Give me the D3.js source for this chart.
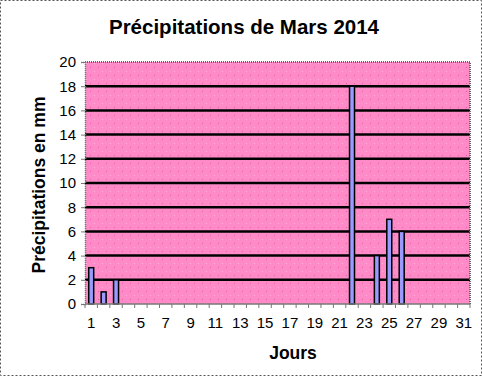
<!DOCTYPE html>
<html>
<head>
<meta charset="utf-8">
<script src="https://cdn.jsdelivr.net/npm/d3@7"></script>
<style>
  body { margin: 0; background: #fff; }
  text { font-family: Arial, "Liberation Sans", sans-serif; }
</style>
</head>
<body>
<div id="chart"></div>
<script>
// days of March and rain in mm (0 where nothing was measured)
var days = d3.range(1, 32);
var rain = [3,1,2,0,0,0,0,0,0,0,0,0,0,0,0,0,0,0,0,0,0,18,0,4,7,6,0,0,0,0,0];
var yTicks = [0,2,4,6,8,10,12,14,16,18,20];
var xLabels = [1,3,5,7,9,11,13,15,17,19,21,23,25,27,29,31];

const W = 482, H = 376;
const plot = {left: 85, right: 470, top: 62, bottom: 304};

var svg = d3.select("#chart").append("svg")
  .attr("width", W)
  .attr("height", H);

// pink dotted background like the old excel fill
var defs = svg.append("defs");
var pat = defs.append("pattern")
  .attr("id", "dots")
  .attr("width", 8).attr("height", 8)
  .attr("patternUnits", "userSpaceOnUse");
pat.append("rect").attr("width", 8).attr("height", 8).attr("fill", "#ff8ac8");
pat.append("rect").attr("x", 2).attr("y", 3).attr("width", 1).attr("height", 1).attr("fill", "#e0609f");
pat.append("rect").attr("x", 6).attr("y", 7).attr("width", 1).attr("height", 1).attr("fill", "#ffb0dc");

// outer border
svg.append("rect")
  .attr("x", 0.5).attr("y", 0.5)
  .attr("width", W - 1).attr("height", H - 1)
  .style("fill", "white")
  .style("stroke", "#555")
  .style("stroke-dasharray", "2,2")
  .style("stroke-width", 1);

var x = d3.scaleBand()
  .domain(days)
  .range([plot.left, plot.right])
  .paddingInner(0.6)
  .paddingOuter(0.3);

var y = d3.scaleLinear()
  .domain([0, 20])
  .range([plot.bottom, plot.top]);

svg.append("rect")
  .attr("x", plot.left).attr("y", plot.top)
  .attr("width", plot.right - plot.left)
  .attr("height", plot.bottom - plot.top)
  .style("fill", "url(#dots)");

// grid lines
svg.append("g").selectAll("line")
  .data(yTicks.filter(d => d > 0 && d < 20))
  .join("line")
  .attr("x1", plot.left).attr("x2", plot.right)
  .attr("y1", d => y(d)).attr("y2", d => y(d))
  .style("stroke", "black")
  .style("stroke-width", 2.5);

// plot border (top & right grey dotted)
svg.append("path")
  .attr("d", `M${plot.left},${plot.top}H${plot.right}V${plot.bottom}`)
  .style("fill", "none")
  .style("stroke", "#666")
  .style("stroke-dasharray", "1,1")
  .style("stroke-width", 2);

// bars
svg.append("g").selectAll("rect")
  .data(days.filter((d, i) => rain[i] > 0))
  .join("rect")
  .attr("x", d => x(d))
  .attr("y", d => y(rain[d - 1]))
  .attr("width", x.bandwidth())
  .attr("height", d => y(0) - y(rain[d - 1]))
  .style("fill", "#9a9aff")
  .style("stroke", "black")
  .style("stroke-width", 1.5);

// y axis
var yAxis = svg.append("g")
  .attr("transform", `translate(${plot.left},0)`)
  .call(d3.axisLeft(y).tickValues(yTicks).tickSize(4).tickPadding(5));
yAxis.select(".domain").style("stroke", "#777").style("stroke-dasharray", "1,1").style("stroke-width", 1.5);
yAxis.selectAll(".tick line").style("stroke", "#777");
yAxis.selectAll("text").style("font-size", "15px").style("fill", "black");

// x axis: ticks between days, labels every two days
var step = x.step();
var xAxis = svg.append("g")
  .attr("transform", `translate(0,${plot.bottom})`);
xAxis.append("line")
  .attr("x1", plot.left).attr("x2", plot.right)
  .style("stroke", "#777").style("stroke-width", 1.5);
xAxis.selectAll(".tk")
  .data(d3.range(0, days.length + 1))
  .join("line")
  .attr("class", "tk")
  .attr("x1", i => plot.left + i * step).attr("x2", i => plot.left + i * step)
  .attr("y1", 0).attr("y2", 4)
  .style("stroke", "#777");
xAxis.selectAll("text")
  .data(xLabels)
  .join("text")
  .attr("x", d => x(d) + x.bandwidth() / 2)
  .attr("y", 24)
  .attr("text-anchor", "middle")
  .style("font-size", "15px")
  .text(d => d);

// titles
svg.append("text")
  .attr("x", 244).attr("y", 34)
  .attr("text-anchor", "middle")
  .style("font-size", "20.5px").style("font-weight", "bold")
  .text("Précipitations de Mars 2014");

svg.append("text")
  .attr("x", 293).attr("y", 359)
  .attr("text-anchor", "middle")
  .style("font-size", "17.5px").style("font-weight", "bold")
  .text("Jours");

svg.append("text")
  .attr("transform", "translate(45,185) rotate(-90)")
  .attr("text-anchor", "middle")
  .style("font-size", "17.5px").style("font-weight", "bold")
  .text("Précipitations en mm");
</script>
</body>
</html>
